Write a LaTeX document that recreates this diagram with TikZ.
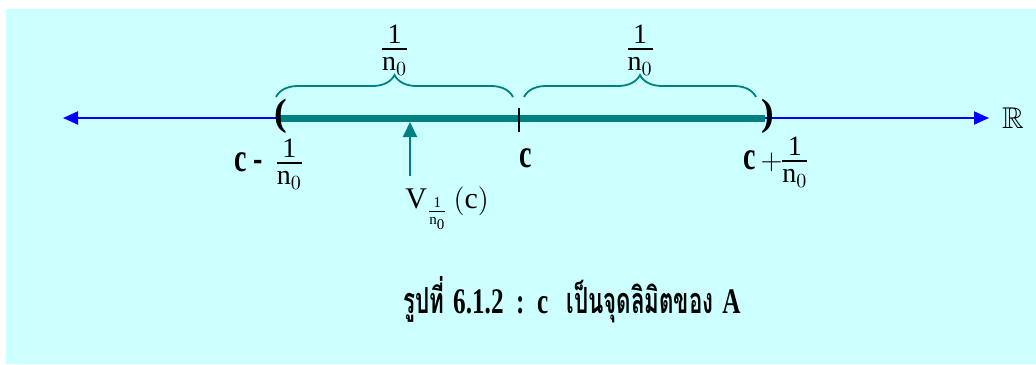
\documentclass[tikz,border=0pt]{standalone}
\usepackage{amsmath,amssymb}
\usepackage{fontspec}
\setmainfont{Liberation Serif}
\newfontfamily\thaifont[Script=Thai,FakeStretch=0.62]{Loma}
\newfontfamily\condfont[FakeStretch=0.7]{Liberation Serif}
\usetikzlibrary{arrows.meta,decorations.pathreplacing}
\definecolor{bgcyan}{HTML}{CCFFFF}
\definecolor{tealline}{HTML}{008080}
\newcommand{\invn}{\ensuremath{\vcenter{\offinterlineskip\halign{\hfil##\hfil\cr
  \vrule height 10pt depth 2.5pt width 0pt 1\cr\noalign{\hrule height 0.7pt}
  \vrule height 10.5pt depth 3pt width 0pt n$_{0}$\cr}}}}
\tikzset{
  lbl/.style={inner sep=0pt, font=\fontsize{14}{16}\selectfont},
  cpt/.style={inner sep=0pt, font=\fontsize{20}{22}\condfont\bfseries},
  axis/.style={blue, line width=1pt, -{Triangle[length=7.5pt,width=6.5pt]}},
  gap/.style={tealline, line width=0.9pt, decorate, decoration={brace, amplitude=11pt}}
}
\begin{document}
\begin{tikzpicture}[x=0.5pt, y=-0.5pt]
        \useasboundingbox (0, 0) rectangle (1036, 364);
        \fill[bgcyan] (6, 9) rectangle (1036, 364);
        \coordinate (left) at (63, 118);
        \coordinate (a) at (276, 118);
        \coordinate (c) at (519, 118);
        \coordinate (b) at (765, 118);
        \coordinate (right) at (989, 118);
        \draw[axis] (a) -- (left);
        \draw[axis] (b) -- (right);
        \draw[tealline, line width=3.5pt] (a) -- (b);
        \draw[black, line width=0.8pt] (519, 108) -- (519, 132);
        \node[font=\fontsize{19}{21}\selectfont\bfseries, inner sep=0pt] (lp) at (281, 116) {(};
        \node[font=\fontsize{19}{21}\selectfont\bfseries, inner sep=0pt] (rp) at (768, 116) {)};
        \node[inner sep=0pt, font=\fontsize{15}{17}\selectfont] (reals) at (1013, 118) {$\mathbb{R}$};
        \foreach \s/\e/\n in {276/513/half1, 524/756/half2}{
            \draw[gap] (\s, 97) -- (\e, 97);
            \node[lbl] (\n) at ({(\s+\e)/2}, 50) {\invn};
        }
        \node[lbl, anchor=west] (cminus) at (234, 164) {{\fontsize{20}{22}\condfont\bfseries c\,-}\ \ \invn};
        \node[cpt] (clab) at (526, 158) {c};
        \node[lbl, anchor=west] (cplus) at (743, 162) {{\fontsize{20}{22}\condfont\bfseries c}\,$+$\invn};
        \coordinate (vtip) at (410, 122);
        \coordinate (vfoot) at (410, 176);
        \draw[tealline, line width=1pt, -{Triangle[length=7.5pt,width=7pt]}] (vfoot) -- (vtip);
        \node[inner sep=0pt, font=\fontsize{15}{17}\selectfont, anchor=north west] (nbhd) at (405, 186) {$\mathrm{V}_{\frac{\mathrm{1}}{\mathrm{n}_{\mathrm{0}}}}\,\mathrm{(c)}$};
        \node[inner sep=0pt, font=\fontsize{18}{20}\bfseries] (caption) at (572, 300) {{\thaifont รูปที่} {\condfont 6.1.2\ \ :\ \ c}\ \ {\thaifont เป็นจุดลิมิตของ} {\condfont A}};
    \end{tikzpicture}
\end{document}
